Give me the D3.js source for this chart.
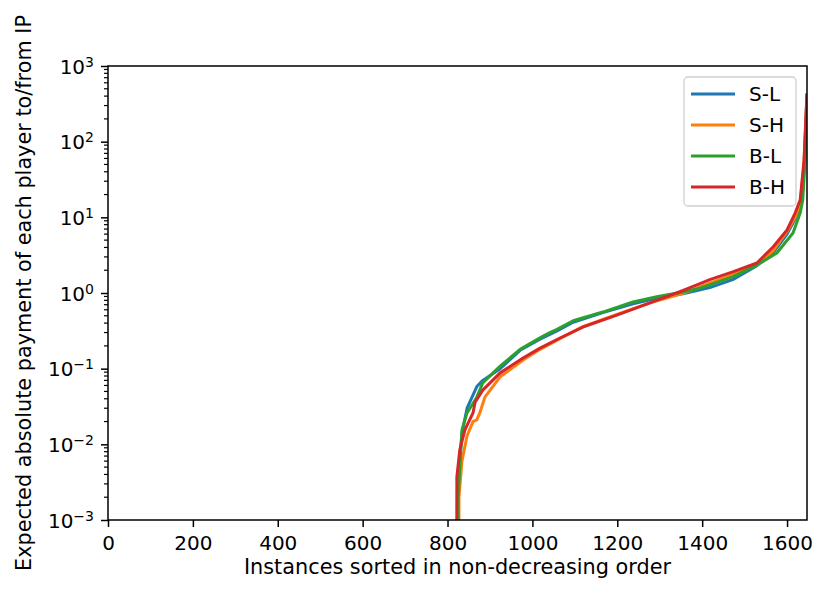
<!DOCTYPE html>
<html><head><meta charset="utf-8">
<script src="https://cdn.jsdelivr.net/npm/d3@7"></script>
<style>body{margin:0;background:#fff}svg{display:block}text{font-family:"DejaVu Sans",sans-serif;fill:#000}</style>
</head><body>
<script>
// Data (instance index, expected absolute payment)
const seriesNames = ["S-L", "S-H", "B-L", "B-H"];
const colors = ["#1f77b4", "#ff7f0e", "#2ca02c", "#d62728"];
const sL = [[823,1e-6],[824,0.003],[834,0.014],[846,0.03],[869,0.058],[883,0.07],[924,0.1],[971,0.175],[1018,0.245],[1058,0.315],[1096,0.41],[1166,0.55],[1237,0.72],[1293,0.85],[1355,0.98],[1418,1.18],[1472,1.5],[1529,2.3],[1567,3.4],[1600,6.0],[1619,9.5],[1631,14],[1640,45],[1647,420]];
const sH = [[826,1e-6],[827,0.002],[834,0.006],[846,0.013],[860,0.02],[869,0.021],[876,0.026],[888,0.042],[924,0.078],[978,0.13],[1018,0.18],[1065,0.25],[1119,0.36],[1199,0.52],[1277,0.74],[1355,0.99],[1418,1.35],[1472,1.75],[1529,2.4],[1567,3.6],[1600,6.5],[1619,10],[1631,15],[1640,50],[1647,430]];
const bL = [[824,1e-6],[825,0.002],[834,0.0155],[846,0.026],[869,0.042],[883,0.065],[924,0.108],[971,0.18],[1018,0.255],[1041,0.3],[1058,0.33],[1096,0.43],[1166,0.56],[1237,0.76],[1293,0.89],[1355,1.03],[1395,1.16],[1418,1.28],[1472,1.63],[1529,2.34],[1576,3.38],[1614,6.2],[1631,11.4],[1637,17],[1643,60],[1647,400]];
const bH = [[821,1e-6],[822,0.0037],[829,0.0085],[841,0.0155],[860,0.026],[865,0.036],[883,0.052],[924,0.088],[978,0.138],[1018,0.187],[1065,0.254],[1119,0.355],[1199,0.51],[1277,0.74],[1355,1.08],[1395,1.33],[1418,1.5],[1472,1.90],[1529,2.49],[1567,4.06],[1600,6.8],[1619,11.4],[1631,17],[1640,57],[1647,440]];
const seriesData = [sL, sH, bL, bH];
const xTicks = [0,200,400,600,800,1000,1200,1400,1600];
const yExps = [-3,-2,-1,0,1,2,3];
const xLabel = "Instances sorted in non-decreasing order";
const yLabel = "Expected absolute payment of each player to/from IP";

const W = 831, H = 599;
const L = 108, R = 807, T = 66, B = 520;
const FS = "20px", LFS = "20.8px";
const svg = d3.select("body").append("svg").attr("width", W).attr("height", H);
const x = d3.scaleLinear().domain([0, 1647]).range([L, R]);
const y = d3.scaleLog().domain([1e-3, 1e3]).range([B, T]);

svg.append("defs").append("clipPath").attr("id","clip").append("rect")
  .attr("x", L).attr("y", T).attr("width", R-L).attr("height", B-T);

const line = d3.line().x(d => x(d[0])).y(d => y(d[1]));
const g = svg.append("g").attr("clip-path","url(#clip)");
seriesData.forEach((s, i) => {
  g.append("path").datum(s).attr("d", line).attr("fill","none")
    .attr("stroke", colors[i]).attr("stroke-width", 3).attr("stroke-linejoin","round");
});

// frame
svg.append("rect").attr("x", L).attr("y", T).attr("width", R-L).attr("height", B-T)
  .attr("fill","none").attr("stroke","#000").attr("stroke-width",1.5);

// x axis
const xa = svg.append("g").attr("transform", `translate(0,${B})`)
  .call(d3.axisBottom(x).tickValues(xTicks).tickSize(7).tickPadding(9).tickFormat(d3.format("d")));
xa.select(".domain").remove();
xa.selectAll("line").attr("stroke","#000").attr("stroke-width",1.5);
xa.selectAll("text").attr("font-size",FS).attr("font-family","DejaVu Sans");

// y axis major
const ya = svg.append("g").attr("transform", `translate(${L},0)`)
  .call(d3.axisLeft(y).tickValues(yExps.map(e => Math.pow(10, e))).tickSize(7).tickPadding(7).tickFormat(""));
ya.select(".domain").remove();
ya.selectAll("line").attr("stroke","#000").attr("stroke-width",1.5);
ya.selectAll(".tick").each(function(d) {
  const e = Math.round(Math.log10(d));
  const t = d3.select(this).select("text").attr("font-size",FS).attr("font-family","DejaVu Sans").attr("dy","0.36em");
  t.append("tspan").text("10");
  t.append("tspan").attr("dy","-0.5em").attr("font-size","14px").text(e < 0 ? "\u2212" + (-e) : String(e));
});
// y minor ticks
const minor = [];
for (let e = -3; e < 3; e++) for (let k = 2; k <= 9; k++) minor.push(k * Math.pow(10, e));
svg.append("g").selectAll("line").data(minor).join("line")
  .attr("x1", L - 4).attr("x2", L).attr("y1", d => y(d)).attr("y2", d => y(d))
  .attr("stroke","#000").attr("stroke-width",1.2);

// labels
svg.append("text").attr("x", (L+R)/2).attr("y", 574).attr("text-anchor","middle")
  .attr("font-size",LFS).text(xLabel);
svg.append("text").attr("transform", `translate(31,${(T+B)/2}) rotate(-90)`).attr("text-anchor","middle")
  .attr("font-size",LFS).text(yLabel);

// legend
const lg = svg.append("g");
lg.append("rect").attr("x", 684).attr("y", 77).attr("width", 112).attr("height", 129)
  .attr("rx", 4).attr("fill","#fff").attr("fill-opacity",0.8).attr("stroke","#d0d0d0").attr("stroke-width",1.3);
seriesNames.forEach((n, i) => {
  const yy = 94 + i * 31;
  lg.append("line").attr("x1", 691).attr("x2", 735).attr("y1", yy).attr("y2", yy)
    .attr("stroke", colors[i]).attr("stroke-width", 3);
  lg.append("text").attr("x", 749).attr("y", yy + 7).attr("font-size",FS).text(n);
});
</script>
</body></html>
